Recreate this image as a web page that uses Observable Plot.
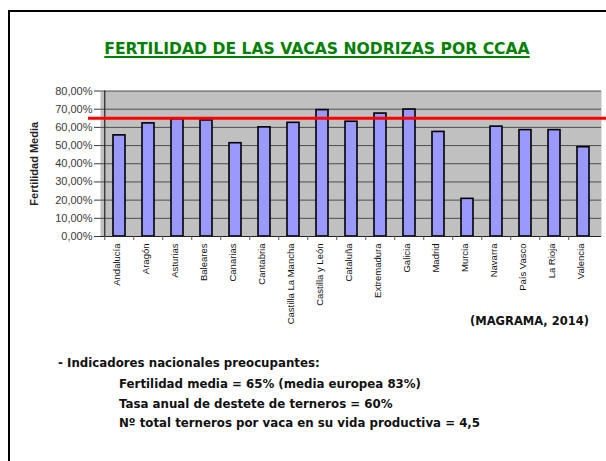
<!DOCTYPE html>
<html><head><meta charset="utf-8">
<script src="https://cdn.jsdelivr.net/npm/d3@7"></script>
<script src="https://cdn.jsdelivr.net/npm/@observablehq/plot@0.6"></script>
<style>
html,body{margin:0;padding:0;background:#fff;}
#page{position:relative;width:606px;height:461px;overflow:hidden;background:#fff;}
#border{position:absolute;left:8px;top:10px;width:640px;height:480px;border-top:2px solid #000;border-left:2px solid #000;}
#chart{position:absolute;left:0;top:0;}
.t{position:absolute;font-family:"DejaVu Sans",Verdana,sans-serif;font-weight:bold;white-space:nowrap;color:#111;}
#title{left:0;width:634px;top:40px;text-align:center;font-size:15.6px;line-height:18px;color:#008000;text-decoration:underline;text-decoration-thickness:2px;text-underline-offset:2px;}
#source{right:17px;top:313.5px;font-size:11.5px;line-height:14px;}
.b{font-size:11.8px;line-height:14px;}
</style>
</head><body>
<div id="page">
  <div id="border"></div>
  <div id="chart"></div>
  <div class="t" id="title"></div>
  <div class="t" id="source"></div>
  <div class="t b" id="l0" style="left:58px;top:356px;"></div>
  <div class="t b" id="l1" style="left:119px;top:377px;"></div>
  <div class="t b" id="l2" style="left:119px;top:396.5px;"></div>
  <div class="t b" id="l3" style="left:119px;top:415.5px;"></div>
</div>
<script>
// ---- data ----
const titleText = "FERTILIDAD DE LAS VACAS NODRIZAS POR CCAA";
const yAxisTitle = "Fertilidad Media";
const sourceText = "(MAGRAMA, 2014)";
const notes = [
  "- Indicadores nacionales preocupantes:",
  "Fertilidad media = 65% (media europea 83%)",
  "Tasa anual de destete de terneros = 60%",
  "Nº total terneros por vaca en su vida productiva = 4,5"
];
const categories = ["Andalucía","Aragón","Asturias","Baleares","Canarias","Cantabria","Castilla La Mancha","Castilla y León","Cataluña","Extremadura","Galicia","Madrid","Murcia","Navarra","País Vasco","La Rioja","Valencia"];
const fertility = [0.556,0.622,0.645,0.638,0.513,0.600,0.625,0.695,0.631,0.676,0.698,0.575,0.207,0.604,0.585,0.585,0.491];
const yTicks = [0,0.1,0.2,0.3,0.4,0.5,0.6,0.7,0.8];
const meanFertility = 0.65;

// ---- texts ----
document.getElementById("title").textContent = titleText;
document.getElementById("source").textContent = sourceText;
notes.forEach((s,i)=>document.getElementById("l"+i).textContent = s);

// ---- chart ----
const data = categories.map((c,i)=>({ccaa:c, value:fertility[i]}));
const W=606, H=340, ML=100, MR=5, MT=90.5, MB=104;
const step = (W-ML-MR)/categories.length;
const fmt = d => (d*100).toFixed(2).replace(".", ",") + "%";

const chart = Plot.plot({
  width: W, height: H,
  marginLeft: ML, marginRight: MR, marginTop: MT, marginBottom: MB,
  style: {fontFamily: "'Liberation Sans', Arial, sans-serif", background: "transparent", overflow: "visible"},
  x: {domain: categories, type: "band", paddingInner: 0.593, paddingOuter: 0.2965, axis: null, label: null},
  y: {domain: [0, 0.8], axis: null, label: null},
  marks: [
    Plot.frame({fill: "#c0c0c0", stroke: null}),
    Plot.gridY(yTicks, {stroke: "#4d4d4d", strokeOpacity: 1, strokeWidth: 1}),
    Plot.barY(data, {x: "ccaa", y: "value", fill: "#9999ff", stroke: "#000", strokeWidth: 1.6}),
    Plot.ruleX([categories[0]], {dx: -step/2, y1: 0, y2: 0.8, stroke: "#222", strokeWidth: 1.2}),
    Plot.ruleY([0], {stroke: "#222", strokeWidth: 1.2}),
    Plot.axisY(yTicks, {tickSize: 6, tickPadding: 2, tickFormat: fmt, fontSize: 11, color: "#3a3a3a", label: null}),
    Plot.axisX({tickSize: 4, tickFormat: () => "", dx: -step/2, color: "#555", label: null}),
    Plot.text(categories, {x: d => d, frameAnchor: "bottom", rotate: -90, textAnchor: "end", dy: 7, fontSize: 9.5, fill: "#111"}),
    Plot.text([yAxisTitle], {frameAnchor: "left", textAnchor: "middle", dx: -66, rotate: -90, fontWeight: "bold", fontSize: 11, fill: "#222"}),
    Plot.ruleY([meanFertility], {stroke: "#ff0000", strokeWidth: 3, insetLeft: -12, insetRight: -10})
  ]
});
document.getElementById("chart").appendChild(chart);
</script>
</body></html>
